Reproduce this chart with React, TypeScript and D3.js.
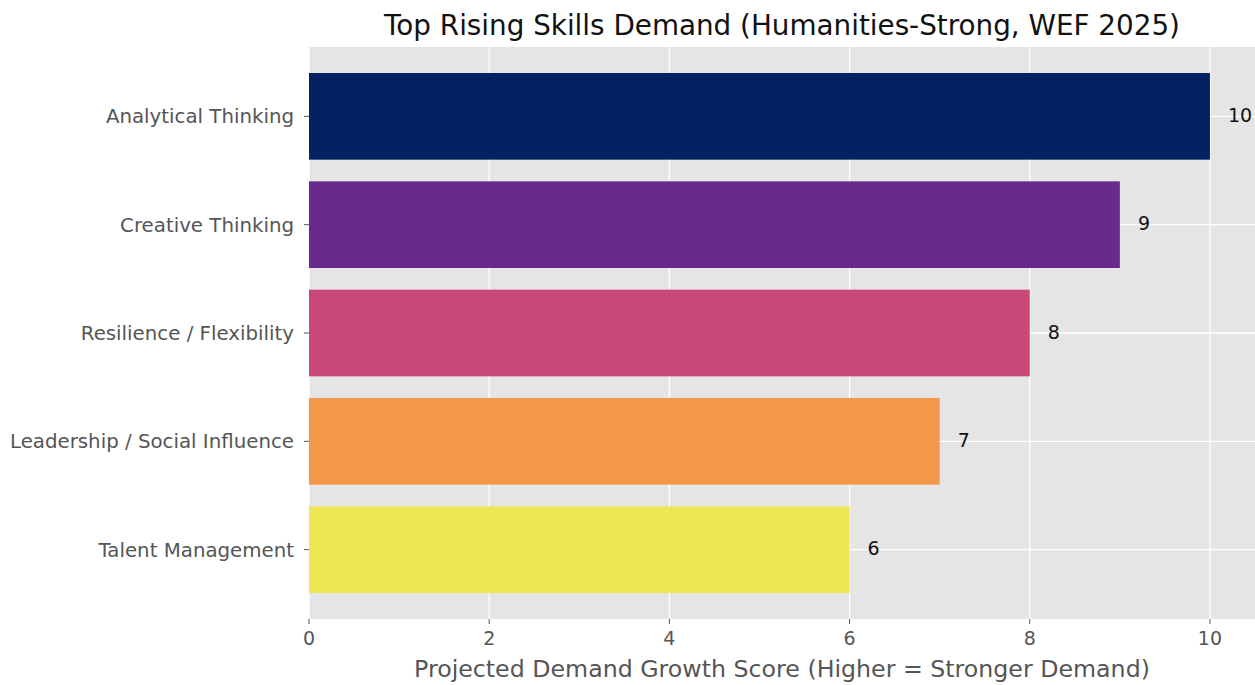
import { useEffect, useRef } from "react";
import * as d3 from "d3";

const skills = [
  "Analytical Thinking",
  "Creative Thinking",
  "Resilience / Flexibility",
  "Leadership / Social Influence",
  "Talent Management",
];
const scores = [10, 9, 8, 7, 6];
const barColors = ["#042162", "#682b8c", "#c9487a", "#f3974a", "#ece853"];
const xTicks = [0, 2, 4, 6, 8, 10];

const W = 1255;
const H = 685;
const FONT = "'DejaVu Sans', sans-serif";

export default function App() {
  const svgRef = useRef<SVGSVGElement | null>(null);

  useEffect(() => {
    document.body.style.margin = "0";
    const svg = d3.select(svgRef.current);
    svg.selectAll("*").remove();

    const left = 309;
    const top = 47;
    const bottom = 619;
    const x = d3.scaleLinear().domain([0, 10.5]).range([left, W]);
    const y = d3.scaleLinear().domain([-0.64, 4.64]).range([top, bottom]);
    const barH = y(0.4) - y(-0.4);

    svg
      .append("rect")
      .attr("x", left)
      .attr("y", top)
      .attr("width", W - left)
      .attr("height", bottom - top)
      .attr("fill", "#e5e5e5");

    const g = svg.append("g");
    g.selectAll(".vgrid")
      .data(xTicks)
      .enter()
      .append("line")
      .attr("x1", (d) => x(d))
      .attr("x2", (d) => x(d))
      .attr("y1", top)
      .attr("y2", bottom)
      .attr("stroke", "#ffffff")
      .attr("stroke-width", 1.3);
    g.selectAll(".hgrid")
      .data(skills)
      .enter()
      .append("line")
      .attr("x1", left)
      .attr("x2", W)
      .attr("y1", (_, i) => y(i))
      .attr("y2", (_, i) => y(i))
      .attr("stroke", "#ffffff")
      .attr("stroke-width", 1.3);

    g.selectAll(".bar")
      .data(scores)
      .enter()
      .append("rect")
      .attr("x", x(0))
      .attr("y", (_, i) => y(i) - barH / 2)
      .attr("width", (d) => x(d) - x(0))
      .attr("height", barH)
      .attr("fill", (_, i) => barColors[i]);

    g.selectAll(".val")
      .data(scores)
      .enter()
      .append("text")
      .attr("x", (d) => x(d + 0.2))
      .attr("y", (_, i) => y(i) - 1)
      .attr("dy", "0.35em")
      .attr("font-family", FONT)
      .attr("font-size", 19)
      .attr("fill", "#111")
      .text((d) => String(d));

    // x axis
    const xa = svg.append("g");
    xTicks.forEach((t) => {
      xa.append("line")
        .attr("x1", x(t))
        .attr("x2", x(t))
        .attr("y1", bottom)
        .attr("y2", bottom + 5)
        .attr("stroke", "#555")
        .attr("stroke-width", 1);
      xa.append("text")
        .attr("x", x(t))
        .attr("y", bottom + 26)
        .attr("text-anchor", "middle")
        .attr("font-family", FONT)
        .attr("font-size", 19)
        .attr("fill", "#555")
        .text(String(t));
    });

    // y axis
    const ya = svg.append("g");
    skills.forEach((s, i) => {
      ya.append("line")
        .attr("x1", left - 5)
        .attr("x2", left)
        .attr("y1", y(i))
        .attr("y2", y(i))
        .attr("stroke", "#555")
        .attr("stroke-width", 1);
      ya.append("text")
        .attr("x", left - 15)
        .attr("y", y(i))
        .attr("dy", "0.35em")
        .attr("text-anchor", "end")
        .attr("font-family", FONT)
        .attr("font-size", 19.8)
        .attr("fill", "#555")
        .text(s);
    });

    svg
      .append("text")
      .attr("x", (left + W) / 2)
      .attr("y", 35)
      .attr("text-anchor", "middle")
      .attr("font-family", FONT)
      .attr("font-size", 27.8)
      .attr("fill", "#111")
      .text("Top Rising Skills Demand (Humanities-Strong, WEF 2025)");

    svg
      .append("text")
      .attr("x", (left + W) / 2)
      .attr("y", 677)
      .attr("text-anchor", "middle")
      .attr("font-family", FONT)
      .attr("font-size", 23.7)
      .attr("fill", "#555")
      .text("Projected Demand Growth Score (Higher = Stronger Demand)");
  }, []);

  return (
    <div style={{ position: "absolute", top: 0, left: 0 }}>
      <svg ref={svgRef} width={W} height={H} style={{ display: "block", background: "#fff" }} />
    </div>
  );
}
